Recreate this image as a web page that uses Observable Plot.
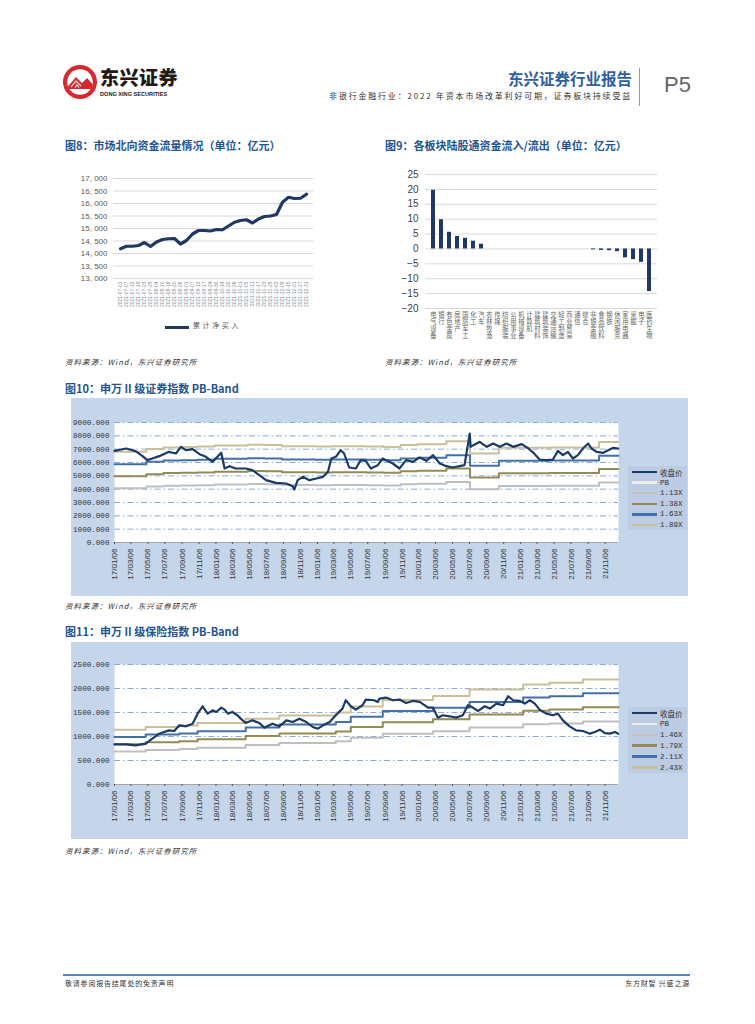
<!DOCTYPE html>
<html><head><meta charset="utf-8">
<script src="https://cdn.jsdelivr.net/npm/d3@7"></script>
<script src="https://cdn.jsdelivr.net/npm/@observablehq/plot@0.6"></script>
<style>
body{margin:0;background:#fff;width:755px;height:1024px;position:relative;overflow:hidden;font-family:"Noto Sans CJK SC","Liberation Sans",sans-serif;}
.abs{position:absolute;}
.ttl{font-size:11px;font-weight:bold;color:#24548f;white-space:nowrap;line-height:1;}
.src{font-size:7.5px;font-style:italic;color:#333;white-space:nowrap;letter-spacing:1px;line-height:1;}
.panel{background:#c5d6ea;}
.leg{background-color:#f3f6fb;background-image:radial-gradient(#b7c9e1 0.7px,transparent 0.8px);background-size:2px 2px;}
.legrow{position:absolute;left:4px;height:10px;display:flex;align-items:center;white-space:nowrap;}
.legrow span{display:inline-block;width:25px;height:2.5px;margin-right:3px;}
.legrow b{font-weight:normal;font-size:7.5px;color:#333;font-family:"Liberation Mono","Noto Sans CJK SC",monospace;}
</style></head><body>

<!-- header -->
<svg class="abs" style="left:62px;top:64px" width="36" height="36" viewBox="0 0 36 36">
<circle cx="18" cy="18" r="17" fill="#d42a2f"/>
<circle cx="18" cy="18" r="12.8" fill="#fff"/>
<path d="M5.5 23 L14 13 L20 19 L25 14 L30.5 20 L30 25 L6 25Z" fill="#d42a2f"/>
<path d="M9 23 L14 17 L19 22 M13 23.5 L15 21 L17 23.5" stroke="#fff" fill="none" stroke-width="1.1"/>
</svg>
<div class="abs" style="left:100px;top:67px;font-size:19px;font-weight:900;color:#231815;letter-spacing:0.5px;line-height:1;">东兴证券</div>
<div class="abs" style="left:100px;top:92px;font-size:5.6px;font-weight:bold;color:#231815;font-family:'Liberation Sans';line-height:1;">DONG XING SECURITIES</div>
<div class="abs" style="right:123px;top:71px;font-size:15.5px;font-weight:bold;color:#2f5f9f;line-height:1;">东兴证券行业报告</div>
<div class="abs" style="right:123px;top:92px;font-size:8px;color:#333;letter-spacing:1.8px;white-space:nowrap;line-height:1;">非银行金融行业：2022 年资本市场改革利好可期，证券板块持续受益</div>
<div class="abs" style="left:639px;top:68px;width:1px;height:38px;background:#9a9a9a;"></div>
<div class="abs" style="left:664px;top:74px;font-size:22px;color:#666;font-family:'Liberation Sans';line-height:1;">P5</div>

<!-- titles -->
<div class="abs ttl" style="left:65px;top:140px;">图8：市场北向资金流量情况（单位：亿元）</div>
<div class="abs ttl" style="left:385px;top:140px;">图9：各板块陆股通资金流入/流出（单位：亿元）</div>
<div class="abs ttl" style="left:65px;top:383px;">图10：申万 II 级证券指数 PB-Band</div>
<div class="abs ttl" style="left:65px;top:626px;">图11：申万 II 级保险指数 PB-Band</div>

<div class="abs src" style="left:65px;top:358px;">资料来源：Wind，东兴证券研究所</div>
<div class="abs src" style="left:385px;top:358px;">资料来源：Wind，东兴证券研究所</div>
<div class="abs src" style="left:65px;top:602px;">资料来源：Wind，东兴证券研究所</div>
<div class="abs src" style="left:65px;top:847px;">资料来源：Wind，东兴证券研究所</div>

<!-- chart 8 legend -->
<div class="abs" style="left:165px;top:325.5px;width:24px;height:3px;background:#1f3864;"></div>
<div class="abs" style="left:193px;top:322px;font-size:7px;color:#595959;letter-spacing:2.6px;line-height:1;">累计净买入</div>

<!-- panels -->
<div class="abs panel" style="left:71px;top:398px;width:617px;height:198px;"></div>
<div class="abs panel" style="left:71px;top:642px;width:617px;height:197px;"></div>

<div id="c8" class="abs" style="left:60px;top:165px;"></div>
<div id="c9" class="abs" style="left:380px;top:160px;"></div>
<div id="c10" class="abs" style="left:71px;top:398px;"></div>
<div id="c11" class="abs" style="left:71px;top:642px;"></div>

<div id="leg10" class="abs leg" style="left:628px;top:466px;width:59px;height:64px;"></div>
<div id="leg11" class="abs leg" style="left:628px;top:707px;width:59px;height:66px;"></div>

<!-- footer -->
<div class="abs" style="left:63px;top:974px;width:627px;height:2px;background:#5b87b8;"></div>
<div class="abs" style="left:65px;top:980px;font-size:7px;color:#333;letter-spacing:0.8px;line-height:1;">敬请参阅报告结尾处的免责声明</div>
<div class="abs" style="right:65px;top:980px;font-size:7px;color:#333;letter-spacing:0.8px;line-height:1;">东方财智 兴盛之源</div>

<script>
// ---------- Chart 8 data ----------
const c8Dates = ["2021-07-01","2021-07-07","2021-07-13","2021-07-19","2021-07-23","2021-07-29","2021-08-04","2021-08-10","2021-08-16","2021-08-20","2021-08-26","2021-09-01","2021-09-07","2021-09-13","2021-09-17","2021-09-24","2021-09-30","2021-10-14","2021-10-20","2021-10-26","2021-11-01","2021-11-05","2021-11-11","2021-11-17","2021-11-23","2021-11-29","2021-12-03","2021-12-09","2021-12-15","2021-12-21","2021-12-27","2021-12-31"];
const c8Values = [14190,14290,14290,14320,14440,14280,14460,14560,14590,14600,14380,14520,14780,14920,14920,14900,14960,14950,15100,15250,15320,15350,15220,15380,15480,15500,15560,16050,16250,16200,16210,16370];
const c8YTicks = [13000,13500,14000,14500,15000,15500,16000,16500,17000];
const c8SeriesName = "累计净买入";

// ---------- Chart 9 data ----------
const c9Sectors = ["电气设备","银行","有色金属","房地产","国防军工","化工","汽车","农林牧渔","传媒","纺织服装","公用事业","机械设备","计算机","建筑材料","建筑装饰","交通运输","轻工制造","商业贸易","通信","综合","非银金融","食品饮料","钢铁","休闲服务","家用电器","采掘","电子","医药生物"];
const c9Flows = [19.7,9.8,5.6,4.2,3.6,2.6,1.6,0,0,0,0,0,0,0,0,0,0,0,0,0,-0.3,-0.5,-0.6,-0.9,-3.0,-3.6,-4.5,-14.3];
const c9YTicks = [-20,-15,-10,-5,0,5,10,15,20,25];

// ---------- Chart 10 data (证券) ----------
const c10CloseDates = ["2017-01-06","2017-02-17","2017-03-23","2017-04-17","2017-05-04","2017-05-22","2017-06-16","2017-07-21","2017-08-15","2017-09-02","2017-09-20","2017-10-14","2017-11-08","2017-12-01","2017-12-25","2018-01-25","2018-02-06","2018-02-24","2018-03-18","2018-04-23","2018-05-17","2018-06-11","2018-07-05","2018-08-10","2018-09-16","2018-10-09","2018-10-15","2018-10-27","2018-11-14","2018-12-08","2019-01-02","2019-01-26","2019-02-13","2019-02-25","2019-03-13","2019-03-31","2019-04-12","2019-04-30","2019-05-24","2019-06-11","2019-06-29","2019-07-17","2019-08-11","2019-08-29","2019-10-04","2019-10-28","2019-11-21","2019-12-15","2020-01-09","2020-02-02","2020-02-26","2020-03-21","2020-04-14","2020-05-07","2020-05-31","2020-06-18","2020-06-24","2020-07-07","2020-07-10","2020-07-20","2020-08-12","2020-09-06","2020-09-29","2020-10-23","2020-11-16","2020-12-10","2021-01-10","2021-02-03","2021-02-21","2021-03-15","2021-04-08","2021-05-02","2021-05-20","2021-06-07","2021-06-25","2021-07-13","2021-07-31","2021-08-18","2021-09-06","2021-09-18","2021-10-06","2021-10-30","2021-11-17","2021-12-05","2021-12-23"];
const c10Close = [6875,7050,6850,6475,6175,6300,6475,6800,6675,7175,6925,7000,6625,6425,6050,6725,5550,5725,5550,5550,5425,5050,4675,4475,4425,4225,3975,4675,4925,4675,4800,4925,5300,6300,6425,6925,6675,5625,5550,6175,6125,5550,5800,6300,5925,5550,6175,6050,6375,6125,6550,5925,5725,5625,5725,5800,6550,8175,7175,7300,7550,7175,7425,7175,7425,7175,7375,7050,6725,6225,6175,6225,6875,6550,6800,6300,6550,7050,7425,7050,6800,6725,6925,7100,7050];
const c10BandDates = ["2017-01-06","2017-03-01","2017-05-01","2017-07-01","2017-09-01","2017-11-01","2018-01-01","2018-03-01","2018-05-01","2018-07-01","2018-09-01","2018-11-01","2019-01-01","2019-03-01","2019-05-01","2019-07-01","2019-09-01","2019-11-01","2020-01-01","2020-04-14","2020-07-08","2020-10-20","2021-01-01","2021-04-20","2021-07-01","2021-10-15","2021-12-24"];
const c10Band113 = [4071,4071,4193,4262,4279,4297,4349,4349,4383,4366,4314,4314,4297,4314,4314,4297,4279,4366,4401,4539,3985,4245,4245,4262,4262,4505,4505];
const c10Band138 = [4976,4976,5124,5209,5230,5251,5315,5315,5357,5336,5273,5273,5251,5273,5273,5251,5230,5336,5378,5548,4870,5188,5188,5209,5209,5506,5506];
const c10Band163 = [5875,5875,6050,6150,6175,6200,6275,6275,6325,6300,6225,6225,6200,6225,6225,6200,6175,6300,6350,6550,5750,6125,6125,6150,6150,6500,6500];
const c10Band189 = [6815,6815,7018,7134,7163,7192,7279,7279,7337,7308,7221,7221,7192,7221,7221,7192,7163,7308,7366,7598,6670,7105,7105,7134,7134,7540,7540];
const c10Legend = ["收盘价","PB","1.13X","1.38X","1.63X","1.89X"];
const c10YTicks = [0,1000,2000,3000,4000,5000,6000,7000,8000,9000];

// ---------- Chart 11 data (保险) ----------
const c11CloseDates = ["2017-01-06","2017-02-17","2017-03-23","2017-04-28","2017-05-22","2017-06-16","2017-07-21","2017-08-09","2017-08-27","2017-09-20","2017-10-14","2017-11-01","2017-11-19","2017-12-07","2017-12-25","2018-01-07","2018-01-25","2018-02-06","2018-02-18","2018-03-06","2018-03-24","2018-04-05","2018-04-23","2018-05-17","2018-06-11","2018-06-29","2018-07-28","2018-08-22","2018-09-16","2018-10-09","2018-11-02","2018-11-27","2018-12-20","2019-01-08","2019-01-26","2019-02-19","2019-03-13","2019-04-06","2019-04-18","2019-05-06","2019-05-24","2019-06-17","2019-06-29","2019-07-29","2019-08-11","2019-08-17","2019-09-10","2019-10-04","2019-10-28","2019-11-21","2019-12-15","2020-01-09","2020-02-08","2020-02-26","2020-03-14","2020-04-01","2020-04-25","2020-05-19","2020-06-12","2020-06-30","2020-07-18","2020-08-06","2020-08-30","2020-09-17","2020-10-11","2020-11-04","2020-11-22","2020-12-10","2021-01-03","2021-01-21","2021-02-08","2021-02-26","2021-03-15","2021-04-08","2021-05-02","2021-05-20","2021-06-07","2021-07-01","2021-07-25","2021-08-18","2021-09-12","2021-09-30","2021-10-18","2021-11-05","2021-11-23","2021-12-11","2021-12-23"];
const c11Close = [836,836,815,850,954,1059,1128,1114,1233,1212,1267,1476,1630,1476,1546,1511,1602,1560,1476,1511,1442,1372,1281,1337,1281,1184,1267,1212,1337,1302,1372,1302,1198,1163,1233,1302,1442,1581,1755,1630,1560,1651,1769,1755,1720,1790,1811,1755,1769,1699,1741,1720,1602,1602,1393,1442,1421,1393,1442,1651,1602,1532,1630,1581,1685,1651,1838,1755,1741,1685,1755,1685,1560,1476,1442,1476,1337,1212,1128,1114,1059,1093,1142,1072,1059,1093,1059];
const c11BandDates = ["2017-01-06","2017-04-28","2017-08-27","2017-11-01","2018-04-23","2018-08-22","2019-03-13","2019-05-06","2019-08-29","2020-02-26","2020-07-06","2021-01-15","2021-04-20","2021-08-18","2021-12-24"];
const c11Band146 = [685,720,737,768,823,865,900,976,1059,1107,1190,1253,1273,1315,1318];
const c11Band179 = [840,882,903,941,1009,1060,1102,1196,1297,1357,1459,1535,1560,1611,1615];
const c11Band211 = [990,1040,1065,1110,1190,1250,1300,1410,1530,1600,1720,1810,1840,1900,1905];
const c11Band243 = [1140,1198,1227,1279,1371,1440,1498,1624,1763,1843,1981,2085,2120,2189,2195];
const c11Legend = ["收盘价","PB","1.46X","1.79X","2.11X","2.43X"];
const c11YTicks = [0,500,1000,1500,2000,2500];

// x ticks for PB-band charts: every two months on the 6th
const pbTickLabels = ["17/01/06","17/03/06","17/05/06","17/07/06","17/09/06","17/11/06","18/01/06","18/03/06","18/05/06","18/07/06","18/09/06","18/11/06","19/01/06","19/03/06","19/05/06","19/07/06","19/09/06","19/11/06","20/01/06","20/03/06","20/05/06","20/07/06","20/09/06","20/11/06","21/01/06","21/03/06","21/05/06","21/07/06","21/09/06","21/11/06"];

// colours
const NAVY = "#1f3864";
const PBCOL = ["#1b3a66","#eeeeee","#bfbfbf","#948a54","#4470a8","#c9c09b"];

// ---------- Chart 8 ----------
const c8Data = c8Dates.map((d,i)=>({d, v:c8Values[i]}));
document.getElementById("c8").append(Plot.plot({
  width:265, height:153, marginLeft:53, marginRight:12, marginTop:13, marginBottom:40,
  style:{background:"transparent", fontFamily:"Liberation Sans", overflow:"visible"},
  x:{type:"point", domain:c8Dates, padding:0, label:null},
  y:{domain:[13000,17000], label:null},
  marks:[
    Plot.gridY(c8YTicks, {stroke:"#d9d9d9", strokeOpacity:1}),
    Plot.axisY(c8YTicks, {tickSize:0, tickPadding:6, fontSize:8, fill:"#595959", tickFormat:d=>d3.format(",")(d).replace(",", ", ")}),
    Plot.axisX({tickSize:0, tickRotate:-90, fontSize:5, fill:"#8a8a8a", tickPadding:3}),
    Plot.line(c8Data, {x:"d", y:"v", stroke:NAVY, strokeWidth:3.2, title:()=>c8SeriesName})
  ]
}));

// ---------- Chart 9 ----------
const c9Data = c9Sectors.map((s,i)=>({s, v:c9Flows[i]}));
const c9LabelMarks = [0,1,2,3].map(j => Plot.text(c9Sectors.filter(s => s.length > j), {
  x:s=>s, text:s=>s[j], frameAnchor:"bottom", dy: 8 + j*7.2, fontSize:6.3, fill:"#666", fontFamily:"Noto Sans CJK SC"
}));
document.getElementById("c9").append(Plot.plot({
  width:290, height:190, marginLeft:45, marginRight:13, marginTop:14, marginBottom:42,
  style:{background:"transparent", fontFamily:"Liberation Sans", overflow:"visible"},
  x:{type:"band", domain:c9Sectors, padding:0.5, label:null, axis:null},
  y:{domain:[-20,25], label:null},
  marks:[
    Plot.gridY(c9YTicks, {stroke:"#d9d9d9", strokeOpacity:1}),
    Plot.axisY(c9YTicks, {tickSize:0, tickPadding:7, fontSize:10, fill:"#404040"}),
    Plot.barY(c9Data, {x:"s", y:"v", fill:NAVY}),
    ...c9LabelMarks
  ]
}));

// ---------- PB band chart builder ----------
const pd = s => new Date(s + "T00:00:00Z");
const pbTicks = pbTickLabels.map(t => pd("20" + t.replace(/\//g,"-")));
function pbChart(el, {height, marginTop, marginBottom, yDomain, yTicks, closeDates, close, bandDates, bands}) {
  const closeData = closeDates.map((d,i)=>({d:pd(d), v:close[i]}));
  const bandMarks = bands.map((vals, k) => Plot.line(bandDates.map((d,i)=>({d:pd(d), v:vals[i]})), {x:"d", y:"v", stroke:PBCOL[k+2], strokeWidth:2, curve:"step-after"}));
  document.getElementById(el).append(Plot.plot({
    width:617, height, marginLeft:43, marginRight:70, marginTop, marginBottom,
    style:{background:"transparent", fontFamily:"Liberation Sans", overflow:"visible"},
    x:{type:"utc", domain:[pd("2017-01-06"), pd("2021-12-24")], label:null},
    y:{domain:yDomain, label:null},
    marks:[
      Plot.frame({fill:"white", stroke:null}),
      Plot.gridY(yTicks.filter(t=>t>0), {stroke:"#86abdc", strokeOpacity:1, strokeDasharray:"6,3,1.5,3"}),
      Plot.axisY(yTicks, {tickSize:0, tickPadding:5, fontSize:7.6, fontFamily:"Liberation Mono", fill:"#333", tickFormat:d=>d.toFixed(3)}),
      Plot.ruleY([yDomain[0]], {stroke:"#a6a6a6", strokeWidth:1.2}),
      Plot.axisX(pbTicks, {tickRotate:-90, tickFormat:d3.utcFormat("%y/%m/%d"), fontSize:8, fill:"#333", tickSize:2, tickPadding:4, stroke:"#555"}),
      ...bandMarks,
      Plot.line(closeData, {x:"d", y:"v", stroke:PBCOL[0], strokeWidth:2.2})
    ]
  }));
}
pbChart("c10", {height:198, marginTop:24, marginBottom:54, yDomain:[0,9000], yTicks:c10YTicks,
  closeDates:c10CloseDates, close:c10Close, bandDates:c10BandDates, bands:[c10Band113,c10Band138,c10Band163,c10Band189]});
pbChart("c11", {height:197, marginTop:22, marginBottom:55, yDomain:[0,2500], yTicks:c11YTicks,
  closeDates:c11CloseDates, close:c11Close, bandDates:c11BandDates, bands:[c11Band146,c11Band179,c11Band211,c11Band243]});

// ---------- legends ----------
function legend(id, names, step) {
  const box = document.getElementById(id);
  names.forEach((n,i)=>{
    const r = document.createElement("div");
    r.className = "legrow";
    r.style.top = (1 + i*step) + "px";
    r.innerHTML = `<span style="background:${PBCOL[i]}"></span><b>${n}</b>`;
    box.append(r);
  });
}
legend("leg10", c10Legend, 10.6);
legend("leg11", c11Legend, 10.9);
</script>
</body></html>
